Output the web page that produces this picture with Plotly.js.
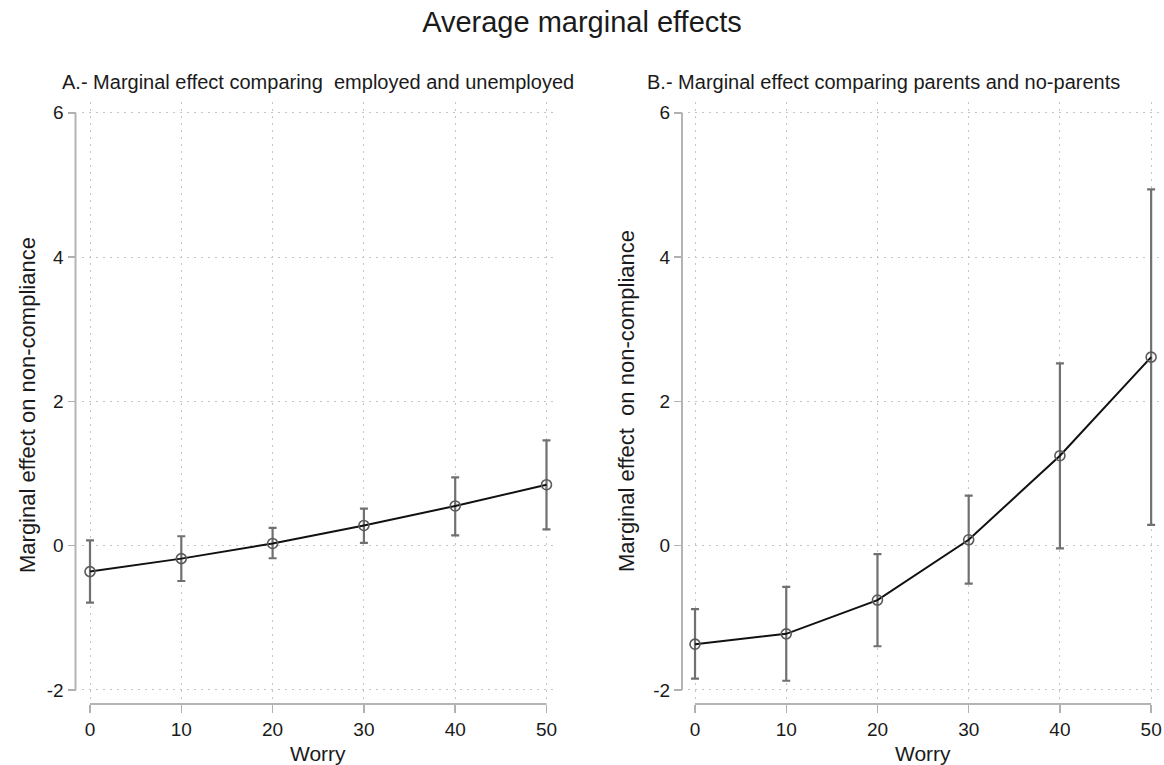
<!DOCTYPE html>
<html>
<head>
<meta charset="utf-8">
<script src="https://cdn.plot.ly/plotly-3.0.1.min.js"></script>
<style>html,body{margin:0;padding:0;background:#fff;}#chart{width:1164px;height:765px;}</style>
</head>
<body>
<div id="chart"></div>
<script>
// ---- data ----
const worry = [0, 10, 20, 30, 40, 50];

// Panel A: employed vs unemployed
const effectA = [-0.36, -0.18, 0.03, 0.28, 0.55, 0.845];
const lowerA  = [-0.79, -0.49, -0.175, 0.037, 0.143, 0.226];
const upperA  = [0.074, 0.13, 0.245, 0.513, 0.947, 1.46];

// Panel B: parents vs no-parents
const effectB = [-1.366, -1.223, -0.755, 0.081, 1.247, 2.613];
const lowerB  = [-1.844, -1.873, -1.395, -0.526, -0.038, 0.287];
const upperB  = [-0.879, -0.573, -0.119, 0.693, 2.527, 4.94];

const xTicks = [0, 10, 20, 30, 40, 50];
const yTicks = [-2, 0, 2, 4, 6];

const mainTitle = "Average marginal effects";
const titleA = "A.- Marginal effect comparing\u00a0 employed and unemployed";
const titleB = "B.- Marginal effect comparing parents and no-parents";
const yTitleA = "Marginal effect on non-compliance";
const yTitleB = "Marginal effect\u00a0 on non-compliance";
const xTitle = "Worry";

// ---- layout helpers ----
const W = 1164, H = 765;
const px = v => v / W;
const py = v => 1 - v / H;
const FONT = "Liberation Sans, Arial, sans-serif";
const TXT = "#1a1a1a";
const GRID = "#c4c4c4";
const GDASH = "1.5px,5.5px";

function mkTrace(y, lo, hi, xa, ya) {
  return {
    x: worry, y: y, xaxis: xa, yaxis: ya,
    type: "scatter", mode: "lines+markers",
    line: {color: "#111111", width: 2},
    marker: {symbol: "circle-open", size: 10, color: "#5a5a5a", line: {width: 1.6, color: "#5a5a5a"}},
    error_y: {
      type: "data", symmetric: false,
      array: hi.map((h, i) => h - y[i]),
      arrayminus: lo.map((l, i) => y[i] - l),
      color: "#707070", thickness: 2.2, width: 4
    },
    showlegend: false, hoverinfo: "x+y"
  };
}

const data = [
  mkTrace(effectA, lowerA, upperA, "x", "y"),
  mkTrace(effectB, lowerB, upperB, "x2", "y2")
];

function xAx(dom, rng) {
  return {
    domain: dom, range: rng, anchor: "free", position: py(704),
    tickmode: "array", tickvals: xTicks, ticktext: xTicks.map(String),
    ticks: "outside", ticklen: 8, tickwidth: 1.5, tickcolor: "#b0b0b0",
    showline: false, zeroline: false,
    showgrid: true, gridcolor: GRID, griddash: GDASH, gridwidth: 1,
    tickfont: {family: FONT, size: 19, color: TXT}, fixedrange: true
  };
}
function yAx(pos) {
  return {
    domain: [py(700), py(102)], range: [-2.14, 6.15], anchor: "free", position: pos,
    tickmode: "array", tickvals: yTicks, ticktext: yTicks.map(String),
    ticks: "outside", ticklen: 8, tickwidth: 1.5, tickcolor: "#b0b0b0",
    showline: false, zeroline: false,
    showgrid: true, gridcolor: GRID, griddash: GDASH, gridwidth: 1,
    tickfont: {family: FONT, size: 19, color: TXT}, fixedrange: true
  };
}

const layout = {
  width: W, height: H,
  margin: {l: 0, r: 0, t: 0, b: 0},
  paper_bgcolor: "#ffffff", plot_bgcolor: "#ffffff",
  font: {family: FONT, color: TXT},
  title: {text: mainTitle, font: {family: FONT, size: 29, color: TXT}, x: px(582), xanchor: "center", y: py(22), yanchor: "middle"},
  xaxis: xAx([px(82), px(557)], [-0.876, 51.15]),
  yaxis: yAx(px(75.5)),
  xaxis2: xAx([px(688), px(1163)], [-0.77, 51.3]),
  yaxis2: yAx(px(682)),
  shapes: [
    {type: "line", xref: "paper", yref: "y", x0: px(75.5), x1: px(75.5), y0: -2, y1: 6, line: {color: "#b4b4b4", width: 2}},
    {type: "line", xref: "x", yref: "paper", x0: 0, x1: 50, y0: py(704), y1: py(704), line: {color: "#b4b4b4", width: 2}},
    {type: "line", xref: "paper", yref: "y2", x0: px(682), x1: px(682), y0: -2, y1: 6, line: {color: "#b4b4b4", width: 2}},
    {type: "line", xref: "x2", yref: "paper", x0: 0, x1: 50, y0: py(704), y1: py(704), line: {color: "#b4b4b4", width: 2}}
  ],
  annotations: [
    {text: titleA, xref: "paper", yref: "paper", x: px(318), y: py(82), xanchor: "center", yanchor: "middle", showarrow: false, font: {family: FONT, size: 20, color: TXT}},
    {text: titleB, xref: "paper", yref: "paper", x: px(883), y: py(82), xanchor: "center", yanchor: "middle", showarrow: false, font: {family: FONT, size: 20, color: TXT}},
    {text: yTitleA, xref: "paper", yref: "paper", x: px(27), y: py(405), xanchor: "center", yanchor: "middle", textangle: -90, showarrow: false, font: {family: FONT, size: 22, color: TXT}},
    {text: yTitleB, xref: "paper", yref: "paper", x: px(626), y: py(401), xanchor: "center", yanchor: "middle", textangle: -90, showarrow: false, font: {family: FONT, size: 22, color: TXT}},
    {text: xTitle, xref: "paper", yref: "paper", x: px(318), y: py(753), xanchor: "center", yanchor: "middle", showarrow: false, font: {family: FONT, size: 21, color: TXT}},
    {text: xTitle, xref: "paper", yref: "paper", x: px(923), y: py(753), xanchor: "center", yanchor: "middle", showarrow: false, font: {family: FONT, size: 21, color: TXT}}
  ]
};

Plotly.newPlot("chart", data, layout, {displayModeBar: false, staticPlot: true});
</script>
</body>
</html>
